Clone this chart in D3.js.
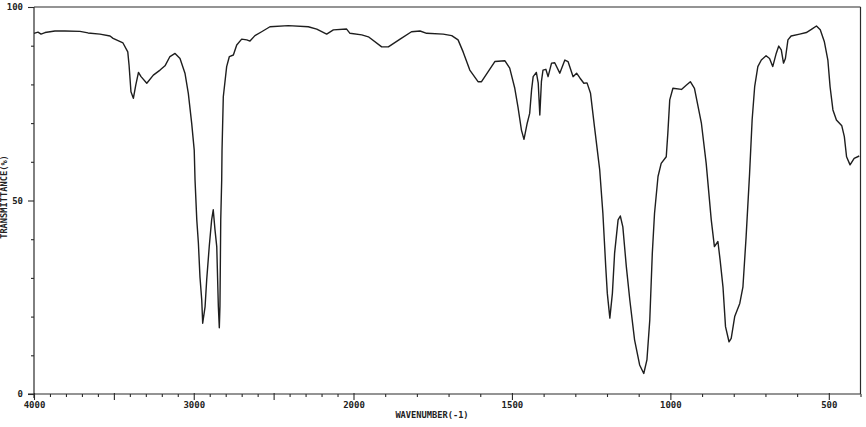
<!DOCTYPE html>
<html>
<head>
<meta charset="utf-8">
<script src="https://cdn.jsdelivr.net/npm/d3@7"></script>
<style>
  html, body { margin: 0; padding: 0; background: #fff; }
  svg { display: block; }
  text { font-family: "DejaVu Sans Mono", "Liberation Mono", monospace; fill: #222; }
</style>
</head>
<body>
<svg id="chart" width="866" height="427"></svg>
<script>
// ---- data ----
const wavenumber = [4000,3975,3956,3931,3869,3806,3712,3662,3587,3524,3505,3443,3413,3405,3393,3378,3363,3346,3330,3294,
  3253,3211,3180,3149,3117,3086,3055,3034,3013,2997,2992,2981,2971,2961,2950,2944,2929,2919,2903,2888,
  2878,2867,2856,2846,2840,2836,2831,2825,2823,2815,2794,2777,2752,2731,2700,2668,2648,2617,2575,2523,
  2408,2283,2230,2168,2126,2043,2022,1974,1953,1911,1890,1853,1817,1790,1769,1717,1690,1670,1654,1633,
  1607,1596,1575,1554,1522,1507,1491,1481,1470,1462,1452,1444,1438,1433,1423,1417,1412,1407,1402,1393,
  1386,1375,1365,1349,1333,1323,1307,1296,1285,1273,1263,1252,1239,1223,1213,1204,1199,1191,1183,1176,
  1165,1158,1150,1139,1128,1113,1097,1084,1074,1065,1057,1050,1039,1029,1013,1008,1002,992,965,950,
  937,924,902,887,871,861,850,843,834,826,815,808,797,781,771,761,750,742,734,724,
  713,698,687,677,666,658,650,643,637,629,619,592,571,555,539,527,514,503,496,487,
  476,459,451,444,433,420,404];
const transmittance = [93.2,93.5,93.0,93.4,93.8,93.8,93.7,93.3,93.0,92.5,91.9,90.7,88.4,85.0,78.1,76.4,79.8,83.1,82.0,80.3,
  82.4,83.7,84.8,87.2,88.0,86.7,82.9,77.7,70.0,63.0,55.3,45.0,39.0,30.2,24.3,18.3,22.6,29.5,38.1,45.0,
  47.6,42.4,38.1,22.6,17.1,22.7,45.0,55.3,63.0,76.8,84.6,87.2,87.6,90.2,91.7,91.5,91.2,92.6,93.6,94.9,
  95.2,94.9,94.3,93.0,94.1,94.3,93.2,92.8,92.3,89.7,89.7,91.7,93.6,93.8,93.2,93.0,92.6,91.5,88.4,83.7,
  80.7,80.7,83.3,85.9,86.1,84.2,79.0,74.2,68.2,65.8,69.9,72.5,78.6,82.0,83.1,80.3,72.1,80.7,83.7,83.9,
  82.0,85.5,85.6,82.9,86.3,85.9,82.0,82.9,81.6,80.3,80.4,77.7,68.7,57.9,46.7,32.9,26.0,19.6,26.0,36.4,
  45.0,46.0,43.2,32.9,24.3,14.0,7.5,5.3,8.8,19.1,36.4,46.7,56.2,59.6,61.3,67.4,76.0,79.0,78.7,79.8,
  80.7,79.0,69.9,59.6,45.0,38.1,39.4,34.6,27.7,17.4,13.5,14.4,20.0,23.4,27.7,40.6,57.0,70.8,79.4,84.6,
  86.3,87.4,86.7,84.6,88.0,89.9,88.9,85.5,86.7,91.5,92.5,93.0,93.4,94.2,95.1,94.1,91.0,86.3,79.4,73.4,
  70.8,69.3,66.5,61.3,59.2,60.9,61.5];
const xLabelTicks = [4000, 3000, 2000, 1500, 1000, 500];
const yLabelTicks = [0, 50, 100];
const xTitle = "WAVENUMBER(-1)";
const yTitle = "TRANSMITTANCE(%)";

// ---- layout ----
const svg = d3.select("#chart");
const x = d3.scaleLinear().domain([4000, 2000, 400]).range([34, 353.5, 860.5]);
const y = d3.scaleLinear().domain([0, 100]).range([394, 7]);
const ink = "#2a2a2a";

// frame
const g = svg.append("g");
g.append("line").attr("x1", x(4000)).attr("x2", x(400)).attr("y1", y(100)).attr("y2", y(100))
  .attr("stroke", ink).attr("stroke-width", 1.2);
g.append("line").attr("x1", x(400)).attr("x2", x(400)).attr("y1", y(100)).attr("y2", y(0))
  .attr("stroke", ink).attr("stroke-width", 1.2);

// x axis
const xMinor = d3.range(4000, 399, -100);
const xAxis = d3.axisBottom(x).tickValues(xMinor).tickSize(3)
  .tickFormat(d => xLabelTicks.includes(d) ? String(d) : "");
const gx = svg.append("g").attr("transform", `translate(0,${y(0)})`).call(xAxis);
gx.select(".domain").attr("stroke", ink).attr("stroke-width", 1.2)
  .attr("d", `M${x(4000) - 6},0H${x(400)}`);
gx.selectAll(".tick line").attr("stroke", ink).attr("stroke-width", 1.1)
  .attr("y1", d => d % 500 === 0 ? -1 : 0)
  .attr("y2", d => d % 500 === 0 ? 6 : 3);
gx.selectAll(".tick text").attr("dy", 0).attr("y", 14)
  .style("font-size", "9px").style("font-weight", "bold")
  .style("font-family", "'DejaVu Sans Mono', monospace").attr("fill", ink);

// y axis
const yAxis = d3.axisLeft(y).tickValues(d3.range(0, 101, 10)).tickSize(3)
  .tickFormat(d => yLabelTicks.includes(d) ? String(d) : "");
const gy = svg.append("g").attr("transform", `translate(${x(4000)},0)`).call(yAxis);
gy.select(".domain").attr("stroke", ink).attr("stroke-width", 1.2)
  .attr("d", `M0,${y(100)}V${y(0) + 4}`);
gy.selectAll(".tick line").attr("stroke", ink).attr("stroke-width", 1.1)
  .attr("x2", d => d % 50 === 0 ? -6 : -3);
gy.selectAll(".tick text").attr("x", -11)
  .style("font-size", "9px").style("font-weight", "bold")
  .style("font-family", "'DejaVu Sans Mono', monospace").attr("fill", ink);

// titles
svg.append("text").attr("x", 432).attr("y", 418).attr("text-anchor", "middle")
  .style("font-size", "8.7px").style("font-weight", "bold").text(xTitle);
svg.append("text").attr("transform", `translate(7,${197}) rotate(-90)`).attr("text-anchor", "middle")
  .style("font-size", "8.7px").style("font-weight", "bold").text(yTitle);

// spectrum
const pts = wavenumber.map((w, i) => [w, transmittance[i]]);
const line = d3.line().x(d => x(d[0])).y(d => y(d[1])).curve(d3.curveLinear);
svg.append("path").datum(pts).attr("d", line)
  .attr("fill", "none").attr("stroke", "#1e1e1e").attr("stroke-width", 1.4)
  .attr("stroke-linejoin", "round");
</script>
</body>
</html>
